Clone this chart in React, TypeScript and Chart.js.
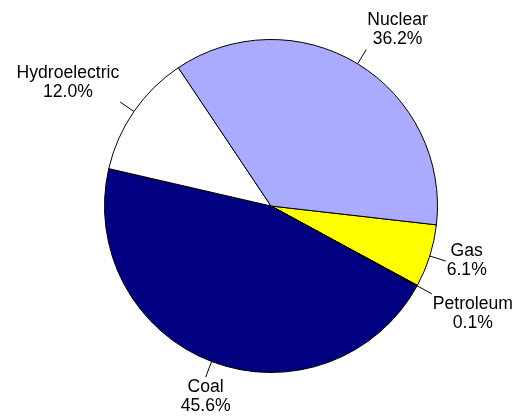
import React, { useEffect, useRef } from "react";
import { Chart, registerables } from "chart.js";

Chart.register(...registerables);

const categories = ["Gas", "Petroleum", "Coal", "Hydroelectric", "Nuclear"];
const shares = [6.1, 0.1, 45.6, 12.0, 36.2];
const sliceColors = ["#FFFF00", "#000000", "#000080", "#FFFFFF", "#AAAAFF"];

const labelPlugin = {
  id: "outerLabels",
  afterDatasetsDraw(chart: any) {
    const ctx = chart.ctx;
    const meta = chart.getDatasetMeta(0);
    ctx.save();
    ctx.font = '17.6px "Liberation Sans", Arial, sans-serif';
    ctx.fillStyle = "#000000";
    ctx.strokeStyle = "#000000";
    ctx.lineWidth = 1;
    meta.data.forEach((arc: any, i: number) => {
      const { x, y, startAngle, endAngle, outerRadius } = arc.getProps(
        ["x", "y", "startAngle", "endAngle", "outerRadius"],
        true
      );
      const mid = (startAngle + endAngle) / 2;
      const c = Math.cos(mid);
      const s = Math.sin(mid);
      const r1 = outerRadius;
      const r2 = outerRadius * 1.1;
      ctx.beginPath();
      ctx.moveTo(x + c * r1, y + s * r1);
      ctx.lineTo(x + c * r2, y + s * r2);
      ctx.stroke();
      const ax = x + c * r2;
      const ay = y + s * r2;
      const lines = [categories[i], shares[i].toFixed(1) + "%"];
      const widths = lines.map((t) => ctx.measureText(t).width);
      const blockW = Math.max(...widths);
      let left: number;
      if (c > 0.4) left = ax + 1;
      else if (c < -0.4) left = ax - 1 - blockW;
      else left = ax - blockW / 2;
      const lh = 19;
      let firstCenter: number;
      if (s > 0.4) firstCenter = ay + 10.5;
      else if (s < -0.4) firstCenter = ay - 10 - lh;
      else firstCenter = ay - lh / 2;
      ctx.textBaseline = "middle";
      ctx.textAlign = "center";
      lines.forEach((t, k) => {
        ctx.fillText(t, left + blockW / 2, firstCenter + k * lh);
      });
    });
    ctx.restore();
  },
};

export default function App() {
  const ref = useRef<HTMLCanvasElement | null>(null);
  useEffect(() => {
    if (!ref.current) return;
    const chart = new Chart(ref.current, {
      type: "pie",
      data: {
        labels: categories,
        datasets: [
          {
            data: shares,
            backgroundColor: sliceColors,
            borderColor: "#000000",
            borderWidth: 1,
          },
        ],
      },
      options: {
        responsive: false,
        animation: false,
        rotation: 96.5,
        layout: { padding: { left: 103, right: 83, top: 39, bottom: 45 } },
        plugins: {
          legend: { display: false },
          tooltip: { enabled: false },
        },
      },
      plugins: [labelPlugin],
    });
    return () => chart.destroy();
  }, []);
  return (
    <div style={{ position: "absolute", left: 0, top: 0, width: 522, height: 418, background: "#fff" }}>
      <canvas ref={ref} width={522} height={418} style={{ width: 522, height: 418 }} />
    </div>
  );
}
